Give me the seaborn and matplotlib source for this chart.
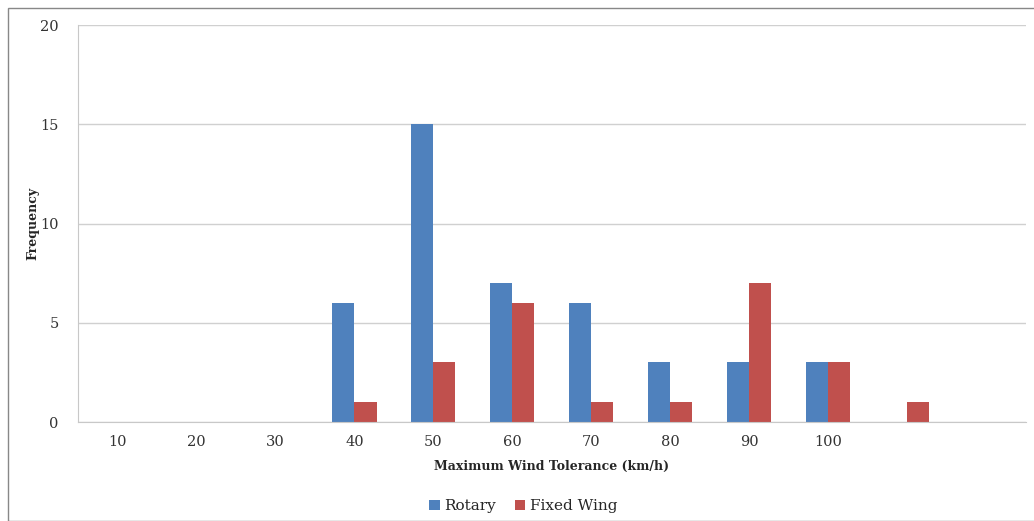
import numpy as np
import pandas as pd
import matplotlib
matplotlib.use("Agg")
import matplotlib.pyplot as plt
import seaborn as sns
from matplotlib.patches import Rectangle

# 데이터
categories = ["10", "20", "30", "40", "50", "60", "70", "80", "90", "100", "110", "120"]
tick_labels = ["10", "20", "30", "40", "50", "60", "70", "80", "90", "100", "", ""]
rotary = [0, 0, 0, 6, 15, 7, 6, 3, 3, 3, 0, 0]
fixed_wing = [0, 0, 0, 1, 3, 6, 1, 1, 7, 3, 1, 0]

df = pd.DataFrame({
    "speed": categories * 2,
    "count": rotary + fixed_wing,
    "type": ["Rotary"] * len(categories) + ["Fixed Wing"] * len(categories),
})

sns.set_style("white")
plt.rcParams['font.family'] = ['DejaVu Serif']

fig = plt.figure(figsize=(10.34, 5.21), dpi=100)
ax = fig.add_axes([0.0754, 0.19, 0.9166, 0.762])

sns.barplot(data=df, x="speed", y="count", hue="type", order=categories,
            palette={"Rotary": "#4F81BD", "Fixed Wing": "#C0504D"},
            saturation=1, width=0.56, gap=0, linewidth=0, ax=ax, legend=True)

ax.set_xlim(-0.5, len(categories) - 0.5)
ax.set_ylim(0, 20)
ax.set_yticks([0, 5, 10, 15, 20])
ax.yaxis.grid(True, color="#d0d0d0", linewidth=1)
ax.set_axisbelow(True)
ax.set_xticks(range(len(categories)))
ax.set_xticklabels(tick_labels)
ax.tick_params(axis="both", length=0, labelsize=10.5, colors="#333333")
ax.tick_params(axis="x", pad=9)
ax.tick_params(axis="y", pad=14)

for s in ["top", "right"]:
    ax.spines[s].set_visible(False)
ax.spines["left"].set_color("#c8c8c8")
ax.spines["bottom"].set_color("#c8c8c8")

ax.set_xlabel("Maximum Wind Tolerance (km/h)", fontsize=9, fontweight="bold", labelpad=8)
ax.set_ylabel("Frequency", fontsize=9, fontweight="bold")
ax.yaxis.set_label_coords(-0.041, 0.5)

ax.legend(loc="upper center", bbox_to_anchor=(0.47, -0.16), ncol=2, frameon=False,
          fontsize=11, handlelength=0.7, handleheight=0.7, handletextpad=0.3, columnspacing=1.2)

# 바깥 테두리
fig.patches.append(Rectangle((8 / 1034, 0), 1.1, 1 - 8 / 521, transform=fig.transFigure,
                             fill=False, edgecolor="#888888", linewidth=1))

fig.savefig("out.png", dpi=100)
